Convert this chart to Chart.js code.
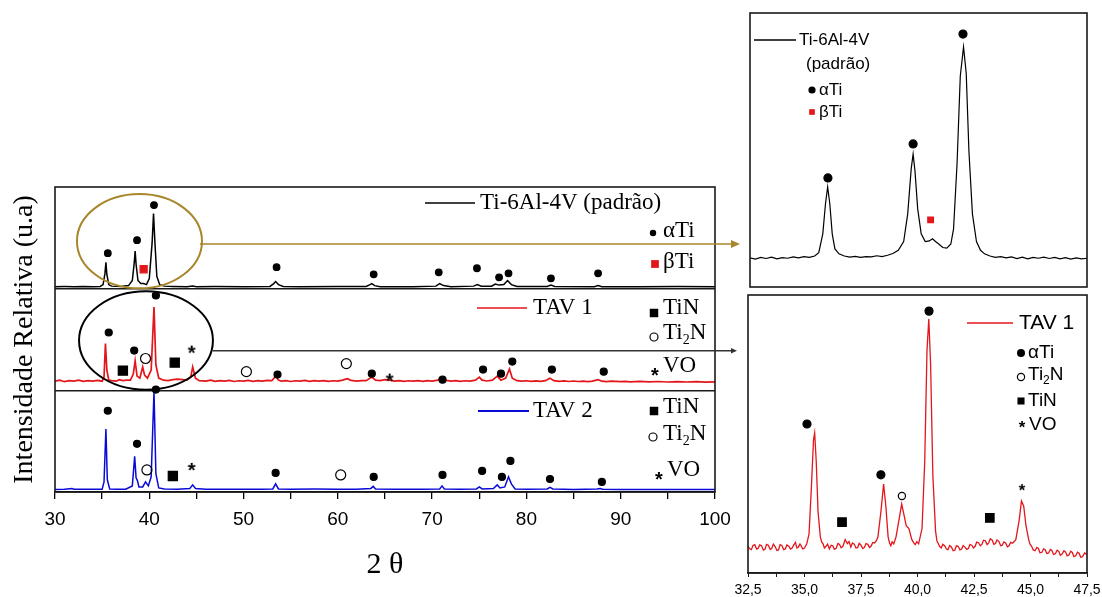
<!DOCTYPE html>
<html>
<head>
<meta charset="utf-8">
<script src="https://cdn.jsdelivr.net/npm/chart.js@4.4.1/dist/chart.umd.min.js"></script>
<style>
  body { margin: 0; background: #fff; }
  #wrap { position: relative; width: 1102px; height: 597px; overflow: hidden; }
  canvas { position: absolute; }
</style>
</head>
<body>
<div id="wrap">
  <canvas id="main" width="1102" height="597" style="left:0;top:0"></canvas>
  <canvas id="zoomPadrao" width="362" height="300" style="left:740px;top:0"></canvas>
  <canvas id="zoomTav1" width="384" height="312" style="left:728px;top:285px"></canvas>
</div>
<script>
// ---- main diffractograms: [2theta, intensity within its own layer (0..1)] ----
const padrao = [
  [30,0.02],[31,0.021],[32,0.02],[33,0.022],[34,0.02],[34.8,0.022],[35.1,0.04],[35.3,0.15],[35.4,0.26],[35.5,0.14],
  [35.7,0.04],[36,0.025],[37,0.022],[37.8,0.03],[38.2,0.08],[38.4,0.25],[38.5,0.37],[38.6,0.24],[38.8,0.08],[39.1,0.05],
  [39.4,0.05],[39.7,0.04],[40.0,0.1],[40.3,0.45],[40.45,0.74],[40.6,0.45],[40.8,0.12],[41.1,0.04],[41.6,0.025],[42.5,0.022],
  [44,0.02],[44.6,0.025],[45,0.02],[47,0.021],[50,0.02],[52.8,0.022],[53.2,0.05],[53.4,0.07],[53.7,0.04],[54.2,0.022],
  [56,0.02],[60,0.021],[63.0,0.022],[63.4,0.04],[63.6,0.05],[63.9,0.03],[64.5,0.02],[68,0.02],[70.4,0.025],[70.8,0.05],
  [71.2,0.03],[72,0.02],[74.4,0.025],[74.8,0.04],[75.2,0.025],[76.3,0.025],[76.7,0.045],[77.1,0.035],[77.6,0.04],[78.0,0.08],
  [78.4,0.04],[79,0.022],[82.2,0.022],[82.6,0.035],[83,0.022],[87.2,0.02],[87.6,0.03],[88,0.02],[92,0.02],[96,0.021],[100,0.02]
];
const tav1 = [
  [30,0.09],[30.5,0.1],[31,0.085],[31.5,0.095],[32,0.09],[32.5,0.1],[33,0.088],[33.5,0.096],[34,0.09],[34.5,0.098],
  [35,0.09],[35.2,0.13],[35.35,0.46],[35.5,0.2],[35.7,0.1],[36,0.095],[36.5,0.09],[36.8,0.105],[37.2,0.095],[37.6,0.1],
  [38,0.1],[38.3,0.16],[38.5,0.29],[38.7,0.14],[39.0,0.12],[39.3,0.23],[39.5,0.15],[39.8,0.12],[40.2,0.2],[40.5,0.82],
  [40.7,0.25],[41,0.12],[41.5,0.1],[42,0.095],[42.5,0.105],[43,0.11],[43.5,0.105],[44,0.1],[44.4,0.13],[44.6,0.23],
  [44.9,0.12],[45.3,0.095],[46,0.09],[46.5,0.1],[47,0.088],[47.5,0.095],[48,0.09],[48.5,0.097],[49,0.087],[49.5,0.094],
  [50,0.09],[50.5,0.098],[51,0.088],[51.5,0.095],[52,0.09],[52.5,0.097],[53,0.095],[53.4,0.14],[53.7,0.1],[54,0.09],
  [54.5,0.096],[55,0.087],[55.5,0.094],[56,0.09],[56.5,0.097],[57,0.088],[57.5,0.095],[58,0.09],[58.5,0.096],[59,0.088],
  [59.5,0.094],[60,0.09],[60.5,0.1],[61,0.115],[61.4,0.098],[62,0.09],[62.5,0.096],[63,0.095],[63.6,0.13],[64,0.1],
  [64.5,0.095],[65,0.105],[65.5,0.1],[66,0.09],[66.5,0.096],[67,0.088],[67.5,0.094],[68,0.09],[68.5,0.096],[69,0.088],
  [69.5,0.095],[70,0.09],[70.6,0.1],[71,0.13],[71.3,0.1],[72,0.09],[72.5,0.096],[73,0.088],[73.5,0.094],[74,0.09],
  [74.6,0.1],[75,0.13],[75.3,0.1],[75.8,0.092],[76.4,0.1],[76.9,0.14],[77.3,0.1],[77.8,0.12],[78.2,0.21],[78.5,0.12],
  [79,0.095],[79.5,0.09],[80,0.094],[80.5,0.088],[81,0.093],[81.5,0.088],[82,0.095],[82.5,0.12],[82.9,0.095],[83.5,0.088],
  [84,0.093],[84.5,0.087],[85,0.092],[85.5,0.087],[86,0.091],[86.5,0.086],[87,0.09],[87.6,0.105],[88,0.09],[88.5,0.086],
  [89,0.09],[90,0.085],[90.5,0.089],[91,0.084],[92,0.088],[93,0.083],[94,0.087],[95,0.082],[96,0.086],[97,0.082],
  [98,0.085],[99,0.081],[100,0.084]
];
const tav2 = [
  [30,0.025],[31,0.028],[31.8,0.035],[32,0.027],[33,0.026],[34,0.028],[35,0.028],[35.2,0.1],[35.4,0.62],[35.55,0.12],
  [35.8,0.03],[36.5,0.027],[37.5,0.028],[38.2,0.06],[38.45,0.35],[38.6,0.14],[38.75,0.11],[38.9,0.05],[39.3,0.05],[39.6,0.1],
  [39.9,0.06],[40.2,0.15],[40.5,0.99],[40.7,0.18],[41,0.04],[41.6,0.03],[43,0.028],[44.3,0.035],[44.6,0.07],[44.9,0.035],
  [46,0.028],[48,0.026],[50,0.027],[52,0.026],[53.1,0.03],[53.4,0.08],[53.7,0.03],[55,0.026],[57.5,0.029],[60,0.027],
  [62,0.026],[63.5,0.035],[63.75,0.055],[64,0.03],[66,0.026],[69,0.026],[70.8,0.03],[71.05,0.06],[71.3,0.03],[73,0.026],
  [74.7,0.03],[75,0.05],[75.3,0.03],[76.5,0.035],[76.9,0.07],[77.2,0.04],[77.7,0.05],[78.1,0.15],[78.4,0.08],[78.8,0.03],
  [80,0.026],[82.2,0.03],[82.5,0.045],[82.8,0.03],[85,0.025],[87.5,0.03],[87.8,0.035],[88.1,0.027],[90,0.025],[93,0.024],
  [96,0.025],[100,0.024]
];

// phase markers (same layer units)
const padraoAlpha = [[35.6,0.349],[38.7,0.477],[40.5,0.822],[53.5,0.211],[63.8,0.141],[70.7,0.161],[74.75,0.201],[77.1,0.112],[78.1,0.151],[82.6,0.102],[87.6,0.151]];
const padraoBeta = [[39.4,0.191]];
const tav1Alpha = [[35.7,0.569],[38.4,0.391],[40.7,0.934],[53.6,0.155],[63.6,0.164],[71.1,0.105],[75.4,0.204],[77.3,0.164],[78.5,0.283],[82.7,0.204],[88.2,0.184]];
const tav1TiN = [[37.2,0.194],[42.7,0.273]];
const tav1Ti2N = [[39.6,0.313],[50.3,0.184],[60.9,0.263]];
const tav1VO = [[44.5,0.401],[65.5,0.125]];
const tav2Alpha = [[35.6,0.799],[38.7,0.474],[40.7,1.007],[53.4,0.188],[63.8,0.148],[71.1,0.168],[75.3,0.207],[77.4,0.148],[78.3,0.306],[82.5,0.128],[88.0,0.099]];
const tav2TiN = [[42.5,0.158]];
const tav2Ti2N = [[39.75,0.217],[60.3,0.168]];
const tav2VO = [[44.5,0.247]];

const mainTicks = [30, 40, 50, 60, 70, 80, 90, 100];

// ---- zoomed patterns ----
const zoomPadraoTrace = [
  [32.5,10.6],[32.7,10.2],[32.9,10.8],[33.1,10.4],[33.3,10.9],[33.5,10.3],[33.7,10.7],[33.9,10.5],[34.1,11.0],[34.3,10.6],
  [34.5,11.1],[34.7,10.8],[34.9,11.3],[35.05,12.5],[35.2,19.4],[35.3,30.4],[35.38,36.5],[35.46,30.4],[35.55,19.4],[35.65,13.9],
  [35.8,12.1],[36.0,11.3],[36.2,10.9],[36.4,11.2],[36.6,10.8],[36.8,11.1],[37.0,11.0],[37.2,11.4],[37.4,11.1],[37.6,11.6],
  [37.8,12.2],[38.0,13.4],[38.2,16.6],[38.35,26.7],[38.48,43.2],[38.55,48.5],[38.62,42.3],[38.72,28.5],[38.85,19.4],[39.0,16.6],
  [39.15,16.8],[39.27,17.6],[39.38,16.6],[39.5,15.7],[39.65,14.4],[39.8,14.2],[39.95,15.7],[40.05,21.2],[40.18,45],[40.3,77],
  [40.42,87.6],[40.52,78],[40.62,49.6],[40.75,26.7],[40.9,16.6],[41.05,13.4],[41.2,12.1],[41.4,11.3],[41.6,10.8],[41.8,11.1],
  [42.0,10.6],[42.2,11.0],[42.4,10.4],[42.6,10.9],[42.8,10.3],[43.0,10.8],[43.2,10.5],[43.4,10.9],[43.6,10.4],[43.8,10.8],
  [44.0,10.3],[44.2,10.7],[44.4,10.2],[44.6,10.6],[44.8,10.3],[45,10.5]
];
const zoomPadraoAlpha = [[35.39,39.8],[38.55,52.2],[40.4,92.3]];
const zoomPadraoBeta = [[39.2,24.5]];

const zoomTav1Trace = [
  [32.5,9.6],[32.58,8.7],[32.65,8.4],[32.72,9.9],[32.8,10.2],[32.88,8.6],[32.95,8.9],[33.02,10.1],[33.1,9.8],[33.18,8.2],
  [33.25,8.5],[33.32,10.3],[33.4,10.0],[33.48,8.5],[33.55,8.8],[33.62,10.4],[33.7,9.5],[33.78,8.1],[33.85,8.3],[33.92,10.2],
  [34.0,9.9],[34.08,8.4],[34.15,8.6],[34.22,10.1],[34.3,9.7],[34.38,8.6],[34.45,9.0],[34.52,10.0],[34.6,11.0],[34.66,9.0],
  [34.72,9.2],[34.8,10.4],[34.85,9.8],[34.92,8.7],[35.0,9.0],[35.1,10.5],[35.2,14],[35.3,30],[35.4,48],[35.45,50.4],
  [35.52,40],[35.6,22],[35.7,13],[35.76,11.2],[35.82,10.5],[35.88,9.0],[35.95,9.6],[36.02,10.4],[36.1,8.7],[36.18,10.0],
  [36.25,9.8],[36.32,8.5],[36.4,8.9],[36.48,10.6],[36.55,10.3],[36.62,9.1],[36.7,9.6],[36.8,12.0],[36.9,10.6],[36.97,11.3],
  [37.05,9.3],[37.12,10.8],[37.2,10.4],[37.28,9.0],[37.35,9.1],[37.42,10.7],[37.5,10.0],[37.58,8.8],[37.65,9.2],[37.72,10.6],
  [37.8,10.3],[37.88,9.2],[37.95,9.7],[38.02,11.0],[38.1,10.8],[38.18,11.6],[38.25,13],[38.38,22],[38.5,32],[38.6,24],
  [38.7,13],[38.76,10.9],[38.82,9.8],[38.88,11.2],[38.95,10.5],[39.05,13],[39.18,19],[39.3,24.8],[39.4,21],[39.5,17],
  [39.62,16],[39.75,12],[39.82,11.0],[39.9,10.2],[39.97,11.3],[40.05,10.5],[40.2,16],[40.32,40],[40.42,80],[40.5,91.4],
  [40.58,75],[40.68,35],[40.8,15],[40.86,11.5],[40.92,10.6],[40.98,9.5],[41.05,9.0],[41.12,10.3],[41.2,9.8],[41.28,8.6],
  [41.35,8.4],[41.42,9.9],[41.5,9.4],[41.58,8.0],[41.65,8.2],[41.72,9.8],[41.8,9.6],[41.88,8.3],[41.95,8.6],[42.02,9.9],
  [42.1,9.3],[42.18,8.5],[42.25,8.8],[42.32,10.2],[42.4,10.0],[42.48,9.0],[42.55,9.6],[42.62,11.1],[42.7,10.9],[42.78,9.8],
  [42.85,10.3],[42.92,11.8],[43.0,11.6],[43.08,10.2],[43.15,10.8],[43.22,12.3],[43.3,11.9],[43.38,10.3],[43.45,10.6],[43.52,11.9],
  [43.6,11.4],[43.68,9.8],[43.75,10.0],[43.82,11.2],[43.9,10.8],[43.98,9.4],[44.05,9.8],[44.12,11.0],[44.2,10.7],[44.28,11.3],
  [44.35,12],[44.5,19],[44.6,25.9],[44.7,24],[44.8,17],[44.92,12],[44.98,10.4],[45.05,9.6],[45.12,8.3],[45.2,8.0],
  [45.28,9.2],[45.35,8.8],[45.42,7.3],[45.5,7.4],[45.58,8.7],[45.65,8.4],[45.72,7.0],[45.8,7.2],[45.88,8.5],[45.95,8.1],
  [46.02,6.7],[46.1,6.9],[46.18,8.2],[46.25,7.8],[46.32,6.4],[46.4,6.8],[46.48,8.0],[46.55,7.6],[46.62,6.2],[46.7,6.5],
  [46.78,7.8],[46.85,7.4],[46.92,5.9],[47.0,6.2],[47.08,7.5],[47.15,7.1],[47.22,5.7],[47.3,5.9],[47.4,7.2],[47.5,6.6]
];
const zoomTav1Alpha = [[35.11,53.6],[38.38,35.3],[40.51,94.2]];
const zoomTav1TiN = [[36.66,18.3],[43.2,19.8]];
const zoomTav1Ti2N = [[39.31,27.7]];
const zoomTav1VO = [[44.62,30.9]];

const BLACK = '#000', RED = '#e3161b', BLUE = '#0a0ad8', GOLD = '#a8862b';
const SERIF = '"Liberation Serif", "Times New Roman", serif';
const SANS = '"Liberation Sans", Arial, sans-serif';

// asterisk marker drawn from a font glyph, centred on its own ink box
function asterisk(size, family) {
  const c = document.createElement('canvas');
  c.width = size; c.height = size;
  const g = c.getContext('2d');
  g.fillStyle = BLACK;
  g.font = 'bold ' + Math.round(size * 1.7) + 'px ' + family;
  g.textAlign = 'center';
  g.textBaseline = 'alphabetic';
  const m = g.measureText('*');
  const y = Math.round(size / 2 + (m.actualBoundingBoxAscent - m.actualBoundingBoxDescent) / 2);
  g.fillText('*', size / 2, y);
  return c;
}
const starMain = asterisk(12, SANS);
const starInset = asterisk(10, SANS);

const toXY = (pts, off) => pts.map(p => ({ x: p[0], y: p[1] + (off || 0) }));

const trace = (pts, off, color, w) => ({
  data: toXY(pts, off), showLine: true, borderColor: color, borderWidth: w,
  pointRadius: 0, tension: 0, order: 2
});
const marks = (pts, off, style, size, fill) => ({
  data: toXY(pts, off), showLine: false, pointStyle: style, pointRadius: size,
  backgroundColor: fill ? fill : 'rgba(0,0,0,0)', borderColor: fill || BLACK,
  borderWidth: 1.2, order: 1, clip: false
});

const frame = {
  id: 'frame',
  afterDraw(chart) {
    const a = chart.chartArea, ctx = chart.ctx;
    ctx.save();
    ctx.strokeStyle = '#1a1a1a';
    ctx.lineWidth = 1.6;
    ctx.strokeRect(a.left, a.top, a.right - a.left, a.bottom - a.top);
    ctx.restore();
  }
};

function symbol(ctx, style, r, x, y, color) {
  ctx.save();
  if (style instanceof HTMLCanvasElement) {
    ctx.drawImage(style, Math.round(x - style.width / 2), Math.round(y - style.height / 2));
    ctx.restore();
    return;
  }
  const open = style === 'circleOpen';
  ctx.fillStyle = open ? 'rgba(0,0,0,0)' : color;
  ctx.strokeStyle = open ? BLACK : color;
  Chart.helpers.drawPoint(ctx, {
    pointStyle: open ? 'circle' : style, radius: r, rotation: 0, borderWidth: open ? 1.2 : 0
  }, x, y);
  ctx.restore();
}

function ti2n(ctx, x, y, size, family) {
  ctx.font = size + 'px ' + family;
  ctx.fillText('Ti', x, y);
  const w = ctx.measureText('Ti').width;
  ctx.font = Math.round(size * 0.62) + 'px ' + family;
  ctx.fillText('2', x + w, y + size * 0.32);
  const w2 = ctx.measureText('2').width;
  ctx.font = size + 'px ' + family;
  ctx.fillText('N', x + w + w2, y);
}

function legendLine(ctx, x1, x2, y, color, w) {
  ctx.save();
  ctx.strokeStyle = color; ctx.lineWidth = w;
  ctx.beginPath(); ctx.moveTo(x1, y); ctx.lineTo(x2, y); ctx.stroke();
  ctx.restore();
}

function arrow(ctx, x1, x2, y, color, head) {
  ctx.save();
  ctx.strokeStyle = color; ctx.fillStyle = color; ctx.lineWidth = 1.6;
  ctx.beginPath(); ctx.moveTo(x1, y); ctx.lineTo(x2 - head, y); ctx.stroke();
  ctx.beginPath(); ctx.moveTo(x2, y); ctx.lineTo(x2 - head, y - head * 0.45); ctx.lineTo(x2 - head, y + head * 0.45);
  ctx.closePath(); ctx.fill();
  ctx.restore();
}

const mainDecor = {
  id: 'mainDecor',
  afterDraw(chart) {
    const ctx = chart.ctx, xs = chart.scales.x, ys = chart.scales.y;
    ctx.save();
    // ellipses round the zoomed region
    const ell = (cx, cy, rx, ry, color) => {
      const px = xs.getPixelForValue(cx), py = ys.getPixelForValue(cy);
      const prx = xs.getPixelForValue(cx + rx) - px, pry = py - ys.getPixelForValue(cy + ry);
      ctx.strokeStyle = color; ctx.lineWidth = 2;
      ctx.beginPath(); ctx.ellipse(px, py, prx, pry, 0, 0, Math.PI * 2); ctx.stroke();
      return px + prx;
    };
    const gx = ell(38.96, 2.467, 6.63, 0.464, GOLD);
    arrow(ctx, gx - 2, 740, ys.getPixelForValue(2.44), GOLD, 9);
    const bx = ell(39.65, 1.49, 7.1, 0.484, BLACK);
    ctx.restore();
    arrow(ctx, bx, 737, ys.getPixelForValue(1.39), '#333', 6);

    ctx.save();
    ctx.fillStyle = BLACK; ctx.textBaseline = 'middle'; ctx.textAlign = 'left';
    const f = '23px ' + SERIF;
    ctx.font = f;
    legendLine(ctx, 425, 475, 203, BLACK, 1.6);
    ctx.fillText('Ti-6Al-4V (padrão)', 480, 203);
    symbol(ctx, 'circle', 3.2, 653, 233, BLACK);
    ctx.font = f; ctx.fillText('αTi', 663, 231);
    symbol(ctx, 'rect', 5.5, 655, 264, RED);
    ctx.font = f; ctx.fillText('βTi', 663, 262);

    legendLine(ctx, 477, 527, 308, RED, 1.6);
    ctx.font = f; ctx.fillText('TAV 1', 533, 308);
    symbol(ctx, 'rect', 6, 654, 313, BLACK);
    ctx.font = f; ctx.fillText('TiN', 663, 308);
    symbol(ctx, 'circleOpen', 4, 654, 337, BLACK);
    ti2n(ctx, 663, 333, 23, SERIF);
    symbol(ctx, starMain, 0, 655, 372, BLACK);
    ctx.font = f; ctx.fillText('VO', 663, 366);

    legendLine(ctx, 478, 529, 411, BLUE, 1.8);
    ctx.font = f; ctx.fillText('TAV 2', 533, 411);
    symbol(ctx, 'rect', 6, 654, 411, BLACK);
    ctx.font = f; ctx.fillText('TiN', 663, 407);
    symbol(ctx, 'circleOpen', 4, 653, 437, BLACK);
    ti2n(ctx, 663, 434, 23, SERIF);
    symbol(ctx, starMain, 0, 659, 476, BLACK);
    ctx.font = f; ctx.fillText('VO', 667, 470);
    ctx.restore();
  }
};

new Chart(document.getElementById('main'), {
  type: 'scatter',
  data: {
    datasets: [
      trace(padrao, 2, BLACK, 1.5),
      trace(tav1, 1, RED, 1.7),
      trace(tav2, 0, BLUE, 1.5),
      marks(padraoAlpha, 2, 'circle', 3.3, BLACK),
      marks(padraoBeta, 2, 'rect', 5, RED),
      marks(tav1Alpha, 1, 'circle', 3.5, BLACK),
      marks(tav1TiN, 1, 'rect', 6.5, BLACK),
      marks(tav1Ti2N, 1, 'circle', 5, null),
      marks(tav1VO, 1, starMain, 6, BLACK),
      marks(tav2Alpha, 0, 'circle', 3.5, BLACK),
      marks(tav2TiN, 0, 'rect', 6.5, BLACK),
      marks(tav2Ti2N, 0, 'circle', 5, null),
      marks(tav2VO, 0, starMain, 6, BLACK)
    ]
  },
  options: {
    responsive: false,
    animation: false,
    events: [],
    layout: { padding: { left: 0, top: 187, right: 387, bottom: 0 } },
    plugins: { legend: { display: false }, tooltip: { enabled: false } },
    scales: {
      x: {
        type: 'linear', min: 30, max: 100,
        afterFit(s) { s.height = 105; },
        border: { display: true, color: BLACK, width: 1.6 },
        grid: { drawOnChartArea: false, drawTicks: true, tickLength: 7, color: BLACK, lineWidth: 1.3 },
        ticks: {
          stepSize: 5, autoSkip: false, maxRotation: 0, padding: 9, color: BLACK,
          font: { family: SANS, size: 19 },
          callback: v => mainTicks.includes(v) ? String(v) : ''
        },
        title: { display: true, text: '2 θ', color: BLACK, font: { family: SERIF, size: 30 }, padding: { top: 0, bottom: 14 } }
      },
      y: {
        type: 'linear', min: 0, max: 3,
        afterFit(s) { s.width = 55; },
        border: { display: false },
        grid: {
          drawTicks: false, lineWidth: 1.6,
          color: c => (c.tick && (c.tick.value === 1 || c.tick.value === 2)) ? '#1a1a1a' : 'rgba(0,0,0,0)'
        },
        ticks: { display: false, stepSize: 1 },
        title: { display: true, text: 'Intensidade Relativa (u.a)', color: BLACK, font: { family: SERIF, size: 28 }, padding: { top: 8, bottom: 0 } }
      }
    }
  },
  plugins: [frame, mainDecor]
});

// ---- zoom of the reference alloy ----
const padraoLegend = {
  id: 'padraoLegend',
  afterDraw(chart) {
    const ctx = chart.ctx;
    ctx.save();
    ctx.fillStyle = BLACK; ctx.textBaseline = 'middle';
    const f = '17px ' + SANS;
    legendLine(ctx, 14, 56, 40, BLACK, 1.3);
    ctx.font = f; ctx.fillText('Ti-6Al-4V', 59, 40);
    ctx.fillText('(padrão)', 66, 64);
    symbol(ctx, 'circle', 3.6, 72, 90, BLACK);
    ctx.font = f; ctx.fillText('αTi', 79, 90);
    symbol(ctx, 'rect', 4, 72, 112, RED);
    ctx.font = f; ctx.fillText('βTi', 79, 112);
    ctx.restore();
  }
};

new Chart(document.getElementById('zoomPadrao'), {
  type: 'scatter',
  data: {
    datasets: [
      trace(zoomPadraoTrace, 0, BLACK, 1.2),
      marks(zoomPadraoAlpha, 0, 'circle', 4, BLACK),
      marks(zoomPadraoBeta, 0, 'rect', 4, RED)
    ]
  },
  options: {
    responsive: false, animation: false, events: [],
    layout: { padding: { left: 10, top: 13, right: 15, bottom: 13 } },
    plugins: { legend: { display: false }, tooltip: { enabled: false } },
    scales: {
      x: { type: 'linear', min: 32.5, max: 45, display: false },
      y: { type: 'linear', min: 0, max: 100, display: false }
    }
  },
  plugins: [frame, padraoLegend]
});

// ---- zoom of TAV 1 ----
const tav1Legend = {
  id: 'tav1Legend',
  afterDraw(chart) {
    const ctx = chart.ctx;
    ctx.save();
    ctx.fillStyle = BLACK; ctx.textBaseline = 'middle';
    legendLine(ctx, 239, 285, 38, RED, 1.4);
    ctx.font = '21px ' + SANS; ctx.fillText('TAV 1', 291, 38);
    const f = '19px ' + SANS;
    symbol(ctx, 'circle', 4, 293, 68, BLACK);
    ctx.font = f; ctx.fillText('αTi', 300, 68);
    symbol(ctx, 'circleOpen', 3.6, 293, 92, BLACK);
    ti2n(ctx, 300, 90, 19, SANS);
    symbol(ctx, 'rect', 5, 293, 116, BLACK);
    ctx.font = f; ctx.fillText('TiN', 300, 116);
    symbol(ctx, starInset, 0, 294, 139, BLACK);
    ctx.font = f; ctx.fillText('VO', 301, 140);
    ctx.restore();
  }
};

new Chart(document.getElementById('zoomTav1'), {
  type: 'scatter',
  data: {
    datasets: [
      trace(zoomTav1Trace, 0, RED, 1.3),
      marks(zoomTav1Alpha, 0, 'circle', 4, BLACK),
      marks(zoomTav1TiN, 0, 'rect', 6, BLACK),
      marks(zoomTav1Ti2N, 0, 'circle', 3.6, null),
      marks(zoomTav1VO, 0, starInset, 5, BLACK)
    ]
  },
  options: {
    responsive: false, animation: false, events: [],
    layout: { padding: { left: 20, top: 10, right: 25, bottom: 0 } },
    plugins: { legend: { display: false }, tooltip: { enabled: false } },
    scales: {
      x: {
        type: 'linear', min: 32.5, max: 47.5,
        afterFit(s) { s.height = 24; },
        border: { display: true, color: '#1a1a1a', width: 1.5 },
        grid: { drawOnChartArea: false, drawTicks: true, tickLength: 4, color: '#1a1a1a' },
        ticks: {
          stepSize: 1.25, autoSkip: false, maxRotation: 0, padding: 5, color: BLACK,
          font: { family: SANS, size: 14 },
          callback: v => {
            const k = (v - 32.5) / 2.5;
            return Math.abs(k - Math.round(k)) < 1e-6 ? v.toFixed(1).replace('.', ',') : '';
          }
        }
      },
      y: { type: 'linear', min: 0, max: 100, display: false }
    }
  },
  plugins: [frame, tav1Legend]
});
</script>
</body>
</html>
